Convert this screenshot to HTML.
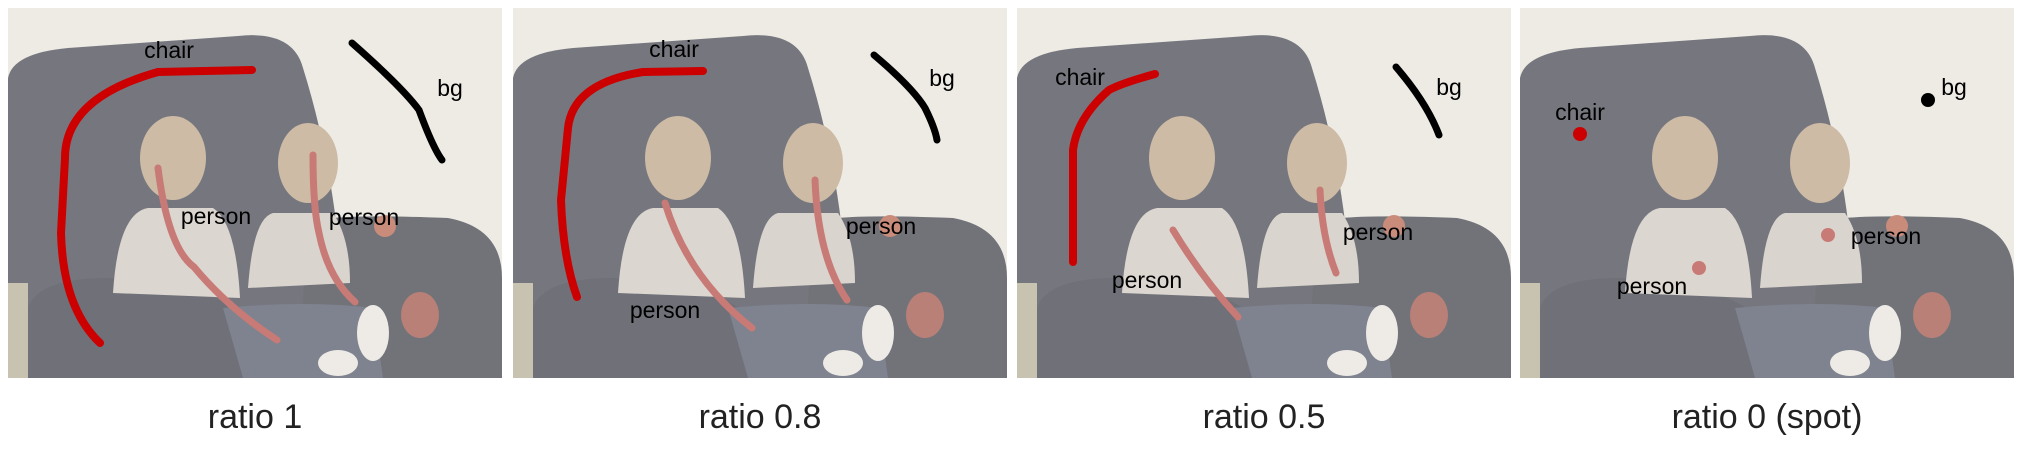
<!DOCTYPE html>
<html><head><meta charset="utf-8">
<style>
html,body{margin:0;padding:0;background:#fff;width:2024px;height:450px;overflow:hidden}
svg text{font-family:"Liberation Sans",sans-serif}
</style></head>
<body>
<svg width="2024" height="450" viewBox="0 0 2024 450">
<defs>
<clipPath id="pc"><rect x="0" y="0" width="494" height="370"/></clipPath>
<g id="photo" clip-path="url(#pc)">
  <rect x="0" y="0" width="494" height="370" fill="#eeebe5"/>
  <path d="M0 70 Q5 45 60 40 L230 28 Q285 22 295 60 Q320 140 330 230 L330 370 L0 370 Z" fill="#76777e"/>
  <path d="M300 215 Q320 205 440 210 Q494 220 494 270 L494 370 L290 370 Z" fill="#727379"/>
  <path d="M20 300 Q30 270 100 270 Q200 275 240 310 L250 370 L20 370 Z" fill="#6f7078"/>
  <rect x="0" y="275" width="20" height="95" fill="#c8c3b0"/>
  <ellipse cx="165" cy="150" rx="33" ry="42" fill="#cdbba6"/>
  <ellipse cx="300" cy="155" rx="30" ry="40" fill="#cdbba6"/>
  <path d="M105 285 Q110 205 140 200 L205 200 Q228 215 232 290 Z" fill="#dcd6d0"/>
  <path d="M240 280 Q245 210 265 205 L325 205 Q342 230 342 275 Z" fill="#dad4ce"/>
  <path d="M215 300 Q300 292 365 300 L375 370 L235 370 Z" fill="#7f838f"/>
  <ellipse cx="365" cy="325" rx="16" ry="28" fill="#eeebe6"/>
  <ellipse cx="330" cy="355" rx="20" ry="13" fill="#eeebe6"/>
  <ellipse cx="412" cy="307" rx="19" ry="23" fill="#b98078"/>
  <circle cx="377" cy="218" r="11" fill="#c98c7a"/>
</g>
</defs>

<g transform="translate(8,8)">
  <use href="#photo"/>
  <path d="M244 62 L150 64 Q57 90 57 150 L53 225 Q55 300 92 335" fill="none" stroke="#c00" stroke-width="8" stroke-linecap="round"/>
  <path d="M344 35 Q395 80 411 102 Q425 140 434 152" fill="none" stroke="#000" stroke-width="7" stroke-linecap="round"/>
  <path d="M150 160 Q160 240 186 259 Q220 300 269 332" fill="none" stroke="#c87a76" stroke-width="7" stroke-linecap="round"/>
  <path d="M305 147 Q305 200 311 225 Q320 270 347 294" fill="none" stroke="#c87a76" stroke-width="7" stroke-linecap="round"/>
  <text x="161" y="50" font-size="23" text-anchor="middle">chair</text>
  <text x="442" y="88" font-size="23" text-anchor="middle">bg</text>
  <text x="208" y="216" font-size="23" text-anchor="middle">person</text>
  <text x="356" y="217" font-size="23" text-anchor="middle">person</text>
</g>

<g transform="translate(513,8)">
  <use href="#photo"/>
  <path d="M190 63 L130 64 Q60 75 55 120 L48 192 Q50 250 64 289" fill="none" stroke="#c00" stroke-width="8" stroke-linecap="round"/>
  <path d="M361 47 Q400 80 412 100 Q422 120 424 132" fill="none" stroke="#000" stroke-width="7" stroke-linecap="round"/>
  <path d="M152 195 Q175 270 239 320" fill="none" stroke="#c87a76" stroke-width="7" stroke-linecap="round"/>
  <path d="M302 172 Q305 250 334 292" fill="none" stroke="#c87a76" stroke-width="7" stroke-linecap="round"/>
  <text x="161" y="49" font-size="23" text-anchor="middle">chair</text>
  <text x="429" y="78" font-size="23" text-anchor="middle">bg</text>
  <text x="152" y="310" font-size="23" text-anchor="middle">person</text>
  <text x="368" y="226" font-size="23" text-anchor="middle">person</text>
</g>

<g transform="translate(1017,8)">
  <use href="#photo"/>
  <path d="M138 66 Q105 75 92 82 Q60 110 56 142 L56 254" fill="none" stroke="#c00" stroke-width="8" stroke-linecap="round"/>
  <path d="M379 59 Q410 95 422 127" fill="none" stroke="#000" stroke-width="7" stroke-linecap="round"/>
  <path d="M156 222 Q185 270 221 309" fill="none" stroke="#c87a76" stroke-width="7" stroke-linecap="round"/>
  <path d="M303 182 Q305 230 319 265" fill="none" stroke="#c87a76" stroke-width="7" stroke-linecap="round"/>
  <text x="63" y="77" font-size="23" text-anchor="middle">chair</text>
  <text x="432" y="87" font-size="23" text-anchor="middle">bg</text>
  <text x="130" y="280" font-size="23" text-anchor="middle">person</text>
  <text x="361" y="232" font-size="23" text-anchor="middle">person</text>
</g>

<g transform="translate(1520,8)">
  <use href="#photo"/>
  <circle cx="60" cy="126" r="7" fill="#c00"/>
  <circle cx="408" cy="92" r="7" fill="#000"/>
  <circle cx="308" cy="227" r="7" fill="#c87a76"/>
  <circle cx="179" cy="260" r="7" fill="#c87a76"/>
  <text x="60" y="112" font-size="23" text-anchor="middle">chair</text>
  <text x="434" y="87" font-size="23" text-anchor="middle">bg</text>
  <text x="366" y="236" font-size="23" text-anchor="middle">person</text>
  <text x="132" y="286" font-size="23" text-anchor="middle">person</text>
</g>

<g font-size="34" fill="#222" text-anchor="middle">
  <text x="255" y="428">ratio 1</text>
  <text x="760" y="428">ratio 0.8</text>
  <text x="1264" y="428">ratio 0.5</text>
  <text x="1767" y="428">ratio 0 (spot)</text>
</g>
</svg>
</body></html>
